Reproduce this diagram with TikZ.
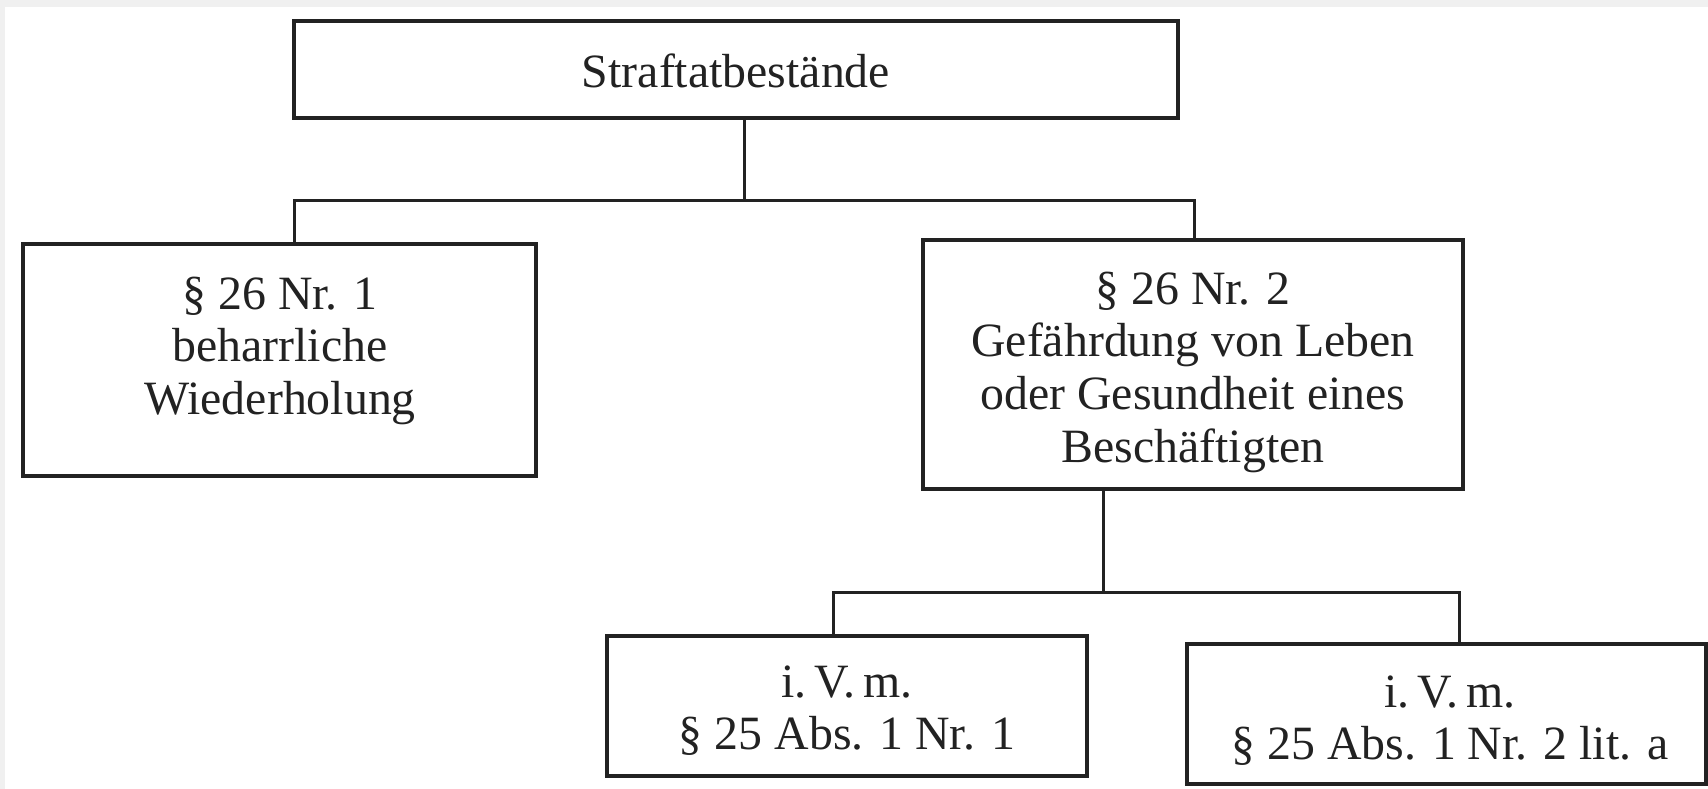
\documentclass[tikz,border=0pt]{standalone}
\usepackage{fontspec}
\setmainfont{Liberation Serif}
\definecolor{ink}{HTML}{222222}
\definecolor{frame}{HTML}{F0F0F0}
\begin{document}
\begin{tikzpicture}[x=1bp,y=-1bp,
  box/.style={draw=ink, line width=3.5bp, fill=white, rectangle, inner sep=0pt},
  lbl/.style={text=ink, inner sep=0pt, font=\fontsize{48}{53}\selectfont, anchor=base},
  conn/.style={draw=ink, line width=3bp}]
\useasboundingbox (0,0) rectangle (1708,789);
\fill[white] (0,0) rectangle (1708,789);
\fill[frame] (0,0) rectangle (1708,7);
\fill[frame] (0,0) rectangle (5,789);
% boxes
\node[box, minimum width=884bp, minimum height=97bp] (T) at (736,69.5) {};
\node[box, minimum width=513bp, minimum height=232bp] (L) at (279.5,360) {};
\node[box, minimum width=540bp, minimum height=249bp] (M) at (1193,364.5) {};
\node[box, minimum width=480bp, minimum height=140bp] (BL) at (847,706) {};
\node[box, minimum width=519bp, minimum height=140bp] (BR) at (1446.5,714) {};
% labels
\node[lbl] (tT) at (736,87) {Straftatbestände};
\node[lbl] (tL) at (280,309) {\begin{tabular}[t]{@{}c@{}}§ 26 Nr. 1\\beharrliche\\Wiederholung\end{tabular}};
\node[lbl] (tM) at (1193,304) {\begin{tabular}[t]{@{}c@{}}§ 26 Nr. 2\\Gefährdung von Leben\\oder Gesundheit eines\\Beschäftigten\end{tabular}};
\node[lbl] (tBL) at (847,697) {\begin{tabular}[t]{@{}c@{}}i.\,V.\,m.\\§ 25 Abs. 1 Nr. 1\end{tabular}};
\node[lbl] (tBR) at (1450,707) {\begin{tabular}[t]{@{}c@{}}i.\,V.\,m.\\§ 25 Abs. 1 Nr. 2 lit. a\end{tabular}};
% connectors
\coordinate (j1) at (744,200);
\coordinate (b1l) at (294,200);
\coordinate (b1r) at (1194,200);
\draw[conn] (j1 |- T.south) -- (j1);
\draw[conn] (b1l |- L.north) -- (b1l) -- (b1r) -- (b1r |- M.north);
\coordinate (j2) at (1103.5,592);
\coordinate (b2l) at (833,592);
\coordinate (b2r) at (1459,592);
\draw[conn] (j2 |- M.south) -- (j2);
\draw[conn] (b2l |- BL.north) -- (b2l) -- (b2r) -- (b2r |- BR.north);
\end{tikzpicture}
\end{document}
